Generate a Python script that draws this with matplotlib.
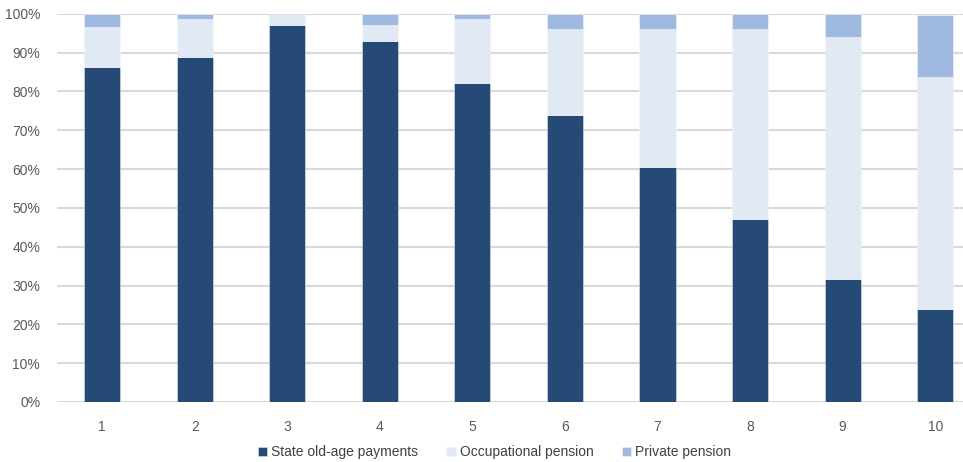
import matplotlib.pyplot as plt
import numpy as np

plt.rcParams['font.family'] = ['Liberation Sans Narrow', 'Liberation Sans', 'DejaVu Sans']

deciles = [1, 2, 3, 4, 5, 6, 7, 8, 9, 10]
state = [86.3, 88.9, 97.2, 93.0, 82.2, 74.0, 60.6, 47.2, 31.7, 24.0]
occupational = [10.3, 9.8, 2.5, 4.2, 16.5, 22.1, 35.5, 48.9, 62.4, 59.8]
private = [3.4, 1.3, 0.3, 2.8, 1.3, 3.9, 3.9, 3.9, 5.9, 15.9]

c_state = "#244a75"
c_occ = "#e1e9f5"
c_priv = "#a0b9e0"

fig = plt.figure(figsize=(9.63, 4.62), dpi=100)
ax = fig.add_axes([0.059, 0.13, 0.941, 0.84])

x = np.array(deciles)
s = np.array(state)
o = np.array(occupational)
p = np.array(private)
w = 0.39
ax.bar(x, s, width=w, color=c_state, edgecolor="#dde5f0", linewidth=0.4,
       label="State old-age payments", zorder=3)
ax.bar(x, o, width=w, bottom=s, color=c_occ, edgecolor="#f3f6fb", linewidth=0.4,
       label="Occupational pension", zorder=3)
ax.bar(x, p, width=w, bottom=s + o, color=c_priv, edgecolor="#f3f6fb", linewidth=0.4,
       label="Private pension", zorder=3)

ax.set_ylim(0, 100)
ax.set_xlim(0.51, 10.3)
ax.set_yticks(np.arange(0, 101, 10))
ax.set_yticklabels([f"{v}%" for v in range(0, 101, 10)])
ax.set_xticks(x)
ax.set_xticklabels([str(d) for d in deciles])
ax.grid(axis="y", color="#d9d9d9", linewidth=1.5, zorder=0)
ax.set_axisbelow(True)
for sp in ax.spines.values():
    sp.set_visible(False)
ax.tick_params(axis="both", length=0, labelsize=10, labelcolor="#595959")
ax.tick_params(axis="x", pad=13)
ax.tick_params(axis="y", pad=12)

ax.legend(loc="center", bbox_to_anchor=(0.483, -0.13), ncol=3, frameon=False,
          fontsize=10, labelcolor="#404040", handlelength=0.7, handleheight=0.7,
          handletextpad=0.3, columnspacing=2.0)

fig.savefig("out.png", dpi=100)
